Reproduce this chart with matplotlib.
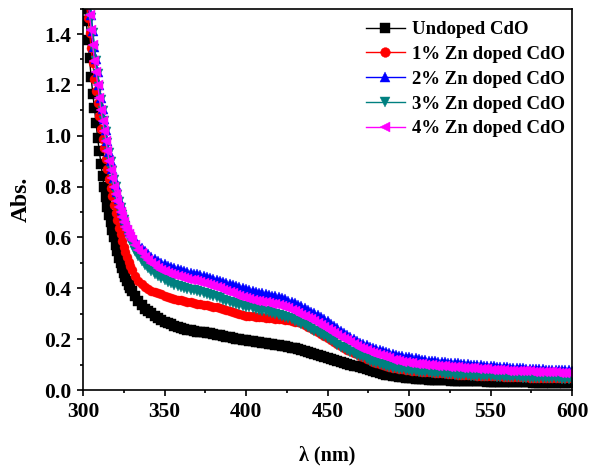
import matplotlib
matplotlib.use("Agg")
import matplotlib.pyplot as plt
import matplotlib.ticker as mticker

plt.rcParams["font.family"] = ["Liberation Serif", "DejaVu Serif"]
plt.rcParams["font.weight"] = "bold"

# wavelength grid (nm): 1 nm on the steep edge, 2 nm after that
WL = list(range(300, 331)) + list(range(332, 601, 2))

UNDOPED = [
    1.56, 1.50, 1.45, 1.375, 1.305, 1.23, 1.165, 1.11, 1.05, 0.99,
    0.94, 0.89, 0.84, 0.80, 0.76, 0.72, 0.69, 0.66, 0.63, 0.60,
    0.572, 0.545, 0.52, 0.50, 0.48, 0.46, 0.443, 0.428, 0.414, 0.401,
    0.391,
] + [
    0.370, 0.351, 0.335, 0.320, 0.310, 0.301, 0.293, 0.284, 0.276, 0.269,
    0.262, 0.258, 0.253, 0.248, 0.244, 0.240, 0.237, 0.235, 0.232, 0.230,
    0.229, 0.227, 0.225, 0.223, 0.221, 0.218, 0.216, 0.213, 0.210, 0.207,
    0.205, 0.202, 0.200, 0.198, 0.196, 0.194, 0.192, 0.190, 0.188, 0.186,
    0.184, 0.182, 0.180, 0.178, 0.176, 0.174, 0.172, 0.169, 0.167, 0.164,
    0.161, 0.158, 0.154, 0.150, 0.146, 0.142, 0.137, 0.132, 0.128, 0.124,
    0.121, 0.117, 0.113, 0.109, 0.105, 0.102, 0.099, 0.096, 0.093, 0.090,
    0.086, 0.082, 0.077, 0.073, 0.069, 0.066, 0.063, 0.060, 0.058, 0.056,
    0.054, 0.052, 0.050, 0.049, 0.047, 0.046, 0.045, 0.044, 0.043, 0.042,
    0.041, 0.040, 0.040, 0.039, 0.039, 0.038, 0.038, 0.037, 0.037, 0.036,
    0.036, 0.036, 0.035, 0.035, 0.035, 0.034, 0.034, 0.034, 0.033, 0.033,
    0.033, 0.032, 0.032, 0.032, 0.031, 0.031, 0.031, 0.031, 0.030, 0.030,
    0.030, 0.030, 0.029, 0.029, 0.029, 0.029, 0.028, 0.028, 0.028, 0.028,
    0.027, 0.027, 0.027, 0.027, 0.027,
]

ZN1 = [
    1.68, 1.60, 1.53, 1.465, 1.405, 1.345, 1.285, 1.225, 1.178, 1.128,
    1.078, 1.028, 0.988, 0.95, 0.91, 0.87, 0.83, 0.793, 0.762, 0.728,
    0.697, 0.667, 0.637, 0.612, 0.587, 0.564, 0.542, 0.523, 0.505, 0.489,
    0.474,
] + [
    0.449, 0.430, 0.416, 0.405, 0.397, 0.391, 0.386, 0.381, 0.376, 0.371,
    0.367, 0.363, 0.359, 0.356, 0.353, 0.350, 0.347, 0.345, 0.343, 0.340,
    0.338, 0.336, 0.334, 0.331, 0.328, 0.325, 0.322, 0.318, 0.314, 0.311,
    0.307, 0.303, 0.299, 0.296, 0.293, 0.291, 0.290, 0.288, 0.287, 0.286,
    0.285, 0.284, 0.282, 0.281, 0.279, 0.278, 0.276, 0.274, 0.272, 0.269,
    0.266, 0.262, 0.256, 0.249, 0.242, 0.235, 0.228, 0.220, 0.212, 0.204,
    0.196, 0.188, 0.180, 0.172, 0.165, 0.158, 0.152, 0.146, 0.140, 0.135,
    0.129, 0.123, 0.117, 0.112, 0.107, 0.102, 0.098, 0.094, 0.091, 0.088,
    0.086, 0.084, 0.082, 0.080, 0.078, 0.076, 0.075, 0.073, 0.072, 0.071,
    0.070, 0.069, 0.068, 0.067, 0.066, 0.065, 0.064, 0.063, 0.062, 0.061,
    0.060, 0.059, 0.059, 0.058, 0.058, 0.057, 0.057, 0.056, 0.056, 0.055,
    0.055, 0.054, 0.054, 0.053, 0.053, 0.052, 0.052, 0.051, 0.051, 0.050,
    0.050, 0.049, 0.049, 0.049, 0.048, 0.048, 0.048, 0.047, 0.047, 0.047,
    0.047, 0.046, 0.046, 0.046, 0.046,
]

ZN2 = [
    1.82, 1.74, 1.67, 1.60, 1.54, 1.475, 1.413, 1.35, 1.302, 1.25,
    1.20, 1.148, 1.104, 1.064, 1.022, 0.98, 0.938, 0.902, 0.868, 0.835,
    0.807, 0.778, 0.752, 0.731, 0.709, 0.688, 0.668, 0.651, 0.635, 0.620,
    0.607,
] + [
    0.590, 0.572, 0.557, 0.545, 0.534, 0.524, 0.514, 0.506, 0.499, 0.494,
    0.489, 0.484, 0.479, 0.475, 0.471, 0.467, 0.464, 0.461, 0.458, 0.455,
    0.452, 0.449, 0.446, 0.442, 0.438, 0.434, 0.430, 0.425, 0.421, 0.416,
    0.412, 0.408, 0.404, 0.400, 0.396, 0.392, 0.389, 0.386, 0.383, 0.380,
    0.377, 0.374, 0.371, 0.368, 0.365, 0.361, 0.357, 0.352, 0.347, 0.341,
    0.335, 0.329, 0.322, 0.315, 0.308, 0.301, 0.294, 0.286, 0.278, 0.270,
    0.261, 0.252, 0.243, 0.234, 0.225, 0.216, 0.208, 0.200, 0.193, 0.186,
    0.181, 0.176, 0.171, 0.166, 0.161, 0.157, 0.153, 0.149, 0.145, 0.141,
    0.138, 0.135, 0.132, 0.130, 0.128, 0.126, 0.124, 0.122, 0.120, 0.118,
    0.116, 0.114, 0.113, 0.111, 0.110, 0.109, 0.108, 0.107, 0.106, 0.105,
    0.103, 0.102, 0.101, 0.100, 0.099, 0.098, 0.097, 0.096, 0.095, 0.094,
    0.093, 0.092, 0.091, 0.090, 0.089, 0.088, 0.087, 0.087, 0.086, 0.085,
    0.084, 0.084, 0.083, 0.082, 0.082, 0.081, 0.080, 0.080, 0.079, 0.079,
    0.078, 0.078, 0.077, 0.077, 0.076,
]

ZN3 = [
    1.81, 1.73, 1.66, 1.59, 1.53, 1.465, 1.405, 1.343, 1.295, 1.243,
    1.193, 1.141, 1.097, 1.057, 1.015, 0.973, 0.931, 0.895, 0.86, 0.827,
    0.797, 0.766, 0.738, 0.714, 0.69, 0.667, 0.645, 0.625, 0.606, 0.589,
    0.574,
] + [
    0.548, 0.527, 0.508, 0.493, 0.479, 0.467, 0.457, 0.448, 0.440, 0.433,
    0.426, 0.420, 0.415, 0.410, 0.405, 0.401, 0.398, 0.395, 0.392, 0.389,
    0.385, 0.381, 0.377, 0.373, 0.369, 0.365, 0.360, 0.356, 0.351, 0.346,
    0.342, 0.338, 0.335, 0.331, 0.328, 0.325, 0.321, 0.318, 0.315, 0.312,
    0.309, 0.306, 0.303, 0.300, 0.296, 0.292, 0.288, 0.284, 0.279, 0.273,
    0.267, 0.261, 0.255, 0.248, 0.241, 0.234, 0.227, 0.219, 0.211, 0.203,
    0.195, 0.187, 0.179, 0.171, 0.164, 0.157, 0.151, 0.145, 0.139, 0.134,
    0.128, 0.122, 0.116, 0.111, 0.106, 0.101, 0.097, 0.093, 0.090, 0.087,
    0.085, 0.083, 0.081, 0.079, 0.077, 0.075, 0.074, 0.072, 0.071, 0.070,
    0.069, 0.068, 0.067, 0.066, 0.065, 0.064, 0.063, 0.062, 0.061, 0.060,
    0.059, 0.058, 0.058, 0.057, 0.057, 0.056, 0.056, 0.055, 0.055, 0.054,
    0.054, 0.053, 0.053, 0.052, 0.052, 0.051, 0.051, 0.050, 0.050, 0.049,
    0.049, 0.048, 0.048, 0.048, 0.047, 0.047, 0.047, 0.046, 0.046, 0.046,
    0.046, 0.045, 0.045, 0.045, 0.045,
]

ZN4 = [
    1.75, 1.67, 1.60, 1.535, 1.475, 1.415, 1.355, 1.295, 1.25, 1.20,
    1.15, 1.10, 1.058, 1.02, 0.98, 0.94, 0.90, 0.865, 0.832, 0.80,
    0.772, 0.745, 0.72, 0.70, 0.68, 0.66, 0.642, 0.628, 0.614, 0.601,
    0.591,
] + [
    0.570, 0.552, 0.537, 0.523, 0.511, 0.500, 0.490, 0.481, 0.474, 0.468,
    0.462, 0.457, 0.452, 0.447, 0.443, 0.440, 0.437, 0.434, 0.431, 0.428,
    0.425, 0.422, 0.418, 0.414, 0.410, 0.405, 0.400, 0.395, 0.390, 0.385,
    0.380, 0.375, 0.370, 0.366, 0.362, 0.358, 0.355, 0.352, 0.349, 0.347,
    0.345, 0.343, 0.340, 0.337, 0.334, 0.330, 0.326, 0.321, 0.316, 0.310,
    0.304, 0.297, 0.291, 0.284, 0.278, 0.271, 0.264, 0.257, 0.249, 0.241,
    0.234, 0.226, 0.218, 0.210, 0.202, 0.195, 0.187, 0.180, 0.173, 0.166,
    0.162, 0.156, 0.150, 0.145, 0.140, 0.136, 0.132, 0.128, 0.124, 0.120,
    0.117, 0.114, 0.112, 0.110, 0.108, 0.106, 0.104, 0.103, 0.101, 0.100,
    0.099, 0.097, 0.096, 0.095, 0.094, 0.093, 0.092, 0.091, 0.090, 0.089,
    0.088, 0.087, 0.086, 0.085, 0.085, 0.084, 0.083, 0.082, 0.081, 0.080,
    0.079, 0.078, 0.078, 0.077, 0.076, 0.076, 0.075, 0.075, 0.074, 0.074,
    0.073, 0.073, 0.072, 0.072, 0.071, 0.071, 0.070, 0.070, 0.069, 0.069,
    0.068, 0.068, 0.067, 0.067, 0.066,
]

SERIES = [
    ("Undoped CdO", UNDOPED, "#000000", "s"),
    ("1% Zn doped CdO", ZN1, "#FF0000", "o"),
    ("2% Zn doped CdO", ZN2, "#0000FF", "^"),
    ("3% Zn doped CdO", ZN3, "#008080", "v"),
    ("4% Zn doped CdO", ZN4, "#FF00FF", "<"),
]

fig = plt.figure(figsize=(5.9, 4.69), dpi=100)
ax = fig.add_axes([0.1407, 0.1684, 0.8288, 0.8132])

for label, vals, color, marker in SERIES:
    ax.plot(WL, vals, color=color, marker=marker, markersize=6.5,
            markeredgewidth=0.3, linewidth=1, label=label)

ax.set_xlim(300, 600)
ax.set_ylim(0, 1.5)
ax.xaxis.set_major_locator(mticker.MultipleLocator(50))
ax.xaxis.set_minor_locator(mticker.MultipleLocator(25))
ax.yaxis.set_major_locator(mticker.MultipleLocator(0.2))
ax.yaxis.set_minor_locator(mticker.MultipleLocator(0.1))
ax.yaxis.set_major_formatter(mticker.FormatStrFormatter("%.1f"))
ax.tick_params(which="major", direction="out", length=4.5, width=1.2,
               labelsize=15.5, pad=4)
ax.tick_params(which="minor", direction="out", length=2.5, width=1.2)
for sp in ax.spines.values():
    sp.set_linewidth(1.2)

ax.set_xlabel("λ (nm)", fontsize=14.5, fontweight="bold", labelpad=17)
ax.set_ylabel("Abs.", fontsize=17, fontweight="bold", labelpad=9)

leg = ax.legend(loc="upper right", bbox_to_anchor=(1.0, 0.987), frameon=False,
                fontsize=13.5, numpoints=1, handlelength=2.1, labelspacing=0.41,
                borderaxespad=0.0, handletextpad=0.35)
for line in leg.get_lines():
    line.set_markersize(7)

fig.savefig("out.png", dpi=100)
